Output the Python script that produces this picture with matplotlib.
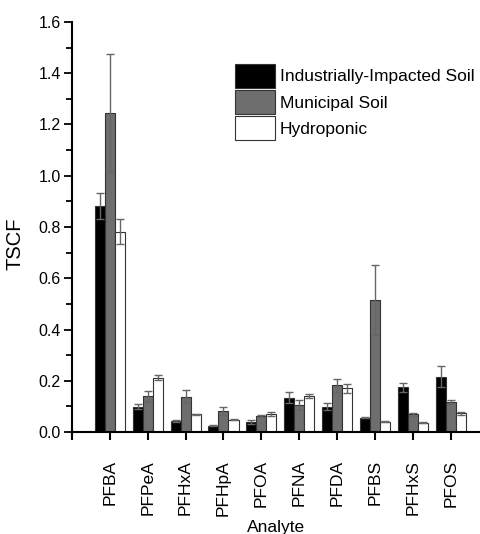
import numpy as np
import matplotlib.pyplot as plt
from matplotlib.ticker import MultipleLocator

analytes = ['PFBA', 'PFPeA', 'PFHxA', 'PFHpA', 'PFOA', 'PFNA', 'PFDA', 'PFBS', 'PFHxS', 'PFOS']
series = ['Industrially-Impacted Soil', 'Municipal Soil', 'Hydroponic']

industrial = [0.882, 0.099, 0.042, 0.025, 0.040, 0.134, 0.099, 0.056, 0.174, 0.216]
industrial_err = [0.052, 0.011, 0.003, 0.002, 0.008, 0.021, 0.013, 0.003, 0.018, 0.040]
municipal = [1.245, 0.139, 0.138, 0.082, 0.062, 0.104, 0.182, 0.516, 0.069, 0.117]
municipal_err = [0.229, 0.020, 0.025, 0.017, 0.005, 0.020, 0.026, 0.136, 0.006, 0.007]
hydroponic = [0.782, 0.212, 0.069, 0.048, 0.071, 0.139, 0.170, 0.040, 0.036, 0.073]
hydroponic_err = [0.048, 0.010, 0.003, 0.002, 0.007, 0.008, 0.018, 0.002, 0.002, 0.006]

font = ['Liberation Sans', 'DejaVu Sans']

fig = plt.figure(figsize=(4.81, 5.34), dpi=100)
ax = fig.add_axes([72 / 481, 102 / 534, 409 / 481, 410 / 534])

x = np.arange(len(analytes))
w = 0.265
fills = ['black', '#6e6e6e', 'white']
data = [(industrial, industrial_err), (municipal, municipal_err), (hydroponic, hydroponic_err)]
for i, (vals, errs) in enumerate(data):
    pos = x + (i - 1) * w
    ax.bar(pos, vals, w, color=fills[i], edgecolor='#333333', linewidth=0.8,
           label=series[i], zorder=2)
    ax.errorbar(pos, vals, yerr=errs, fmt='none', ecolor='#666666',
                elinewidth=1, capsize=3, capthick=1, zorder=3)

ax.set_xlim(-1, 9.8)
ax.set_ylim(0, 1.6)
ax.set_xticks(np.arange(-1, 10))
ax.set_xticklabels([''] + analytes, rotation=90, family=font, fontsize=12.5)
ax.yaxis.set_minor_locator(MultipleLocator(0.1))
ax.set_yticks(np.arange(0, 1.61, 0.2))
ax.set_yticklabels(['%.1f' % v for v in np.arange(0, 1.61, 0.2)], family=font, fontsize=11.5)

for side in ['top', 'right']:
    ax.spines[side].set_visible(False)
for side in ['left', 'bottom']:
    ax.spines[side].set_linewidth(1.5)
ax.tick_params(axis='y', which='major', direction='out', length=6, width=1.3, pad=2)
ax.tick_params(axis='y', which='minor', direction='out', length=4, width=1.3)
ax.tick_params(axis='x', which='major', direction='out', length=6, width=1.5, pad=14)

ax.set_ylabel('TSCF', family=font, fontsize=14.5)
ax.yaxis.set_label_coords(-0.117, 0.46)
ax.set_xlabel('Analyte', family=font, fontsize=12.5)
ax.xaxis.set_label_coords(0.5, -0.215)

ax.legend(loc='upper left', bbox_to_anchor=(0.398, 0.898), frameon=False,
          prop={'family': font, 'size': 12.5}, handlelength=2.3, handleheight=1.75,
          handletextpad=0.29, labelspacing=0.12, borderaxespad=0, borderpad=0)

fig.savefig('out.png', dpi=100)
